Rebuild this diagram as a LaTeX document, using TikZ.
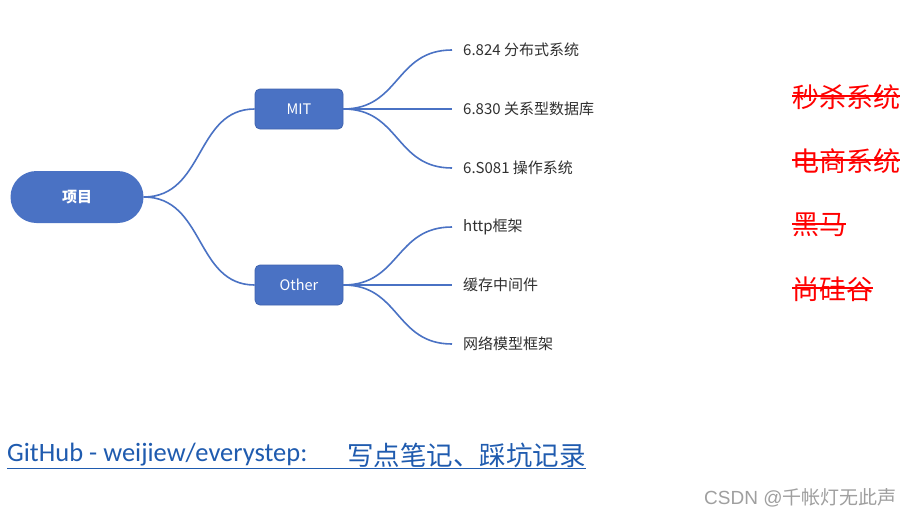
\documentclass[tikz,border=0pt]{standalone}
\usepackage{fontspec}
\setmainfont{Noto Sans CJK SC}
\newfontfamily\latinf{Carlito}
\newfontfamily\arialf{Liberation Sans}
\begin{document}
\begin{tikzpicture}[x=1pt,y=-1pt,
  conn/.style={draw=blueA,line width=1.6pt},
  rootbox/.style={fill=blueA,rounded corners=26pt,minimum width=133pt,minimum height=52pt,text=white,font=\fontsize{15}{17}\selectfont\bfseries},
  midbox/.style={fill=blueA,draw=blueB,line width=0.8pt,rounded corners=5pt,minimum width=88pt,minimum height=40pt,text=white,font=\fontsize{14.5}{16}\selectfont},
  leaf/.style={anchor=west,inner sep=0pt,text=textg,font=\fontsize{15}{17}\selectfont},
  redt/.style={anchor=west,inner sep=0pt,text=red,font=\fontsize{27}{31}\selectfont},
  strike/.style={draw=red,line width=1.3pt}]
\definecolor{blueA}{HTML}{4A72C4}
\definecolor{blueB}{HTML}{3F63AE}
\definecolor{textg}{HTML}{303030}
\definecolor{linkc}{HTML}{1F5BAF}
\useasboundingbox (0,0) rectangle (912,519);
\fill[white] (0,0) rectangle (912,519);
% nodes
\node[rootbox] (root) at (77,197) {项目};
\node[midbox] (mit) at (299,109) {MIT};
\node[midbox] (oth) at (299,285) {Other};
% leaf end coordinates
\coordinate (e1) at (452,50);
\coordinate (e2) at (452,109);
\coordinate (e3) at (452,168);
\coordinate (e4) at (452,227);
\coordinate (e5) at (452,285);
\coordinate (e6) at (452,344);
\node[leaf] (l1) at (463,50) {6.824 分布式系统};
\node[leaf] (l2) at (463,109) {6.830 关系型数据库};
\node[leaf] (l3) at (463,168) {6.S081 操作系统};
\node[leaf] (l4) at (463,227) {http框架};
\node[leaf] (l5) at (463,285) {缓存中间件};
\node[leaf] (l6) at (463,344) {网络模型框架};
% connectors
\draw[conn] (root.east) .. controls (205,197) and (195,109) .. (mit.west);
\draw[conn] (root.east) .. controls (205,197) and (195,285) .. (oth.west);
\draw[conn] (mit.east) .. controls (400,109) and (395,50) .. (e1);
\draw[conn] (mit.east) -- (e2);
\draw[conn] (mit.east) .. controls (400,109) and (395,168) .. (e3);
\draw[conn] (oth.east) .. controls (400,285) and (395,227) .. (e4);
\draw[conn] (oth.east) -- (e5);
\draw[conn] (oth.east) .. controls (400,285) and (395,344) .. (e6);
% red struck-through notes
\node[redt] (r1) at (792,97) {秒杀系统};
\node[redt] (r2) at (792,161) {电商系统};
\node[redt] (r3) at (792,225) {黑马};
\node[redt] (r4) at (792,289) {尚硅谷};
\foreach \r in {r1,r2,r3,r4}{
  \draw[strike] ([yshift=1pt]\r.west) -- ([yshift=1pt]\r.east);
}
% link
\node[anchor=west,inner sep=0pt,text=linkc,font=\latinf\fontsize{26.5}{30}\selectfont] (gh) at (7,455) {GitHub - weijiew/everystep:};
\node[anchor=west,inner sep=0pt,text=linkc,font=\fontsize{26.5}{30}\selectfont] (gh2) at (347,455) {写点笔记、踩坑记录};
\draw[draw=linkc,line width=1pt] (gh.west |- 0,468) -- (gh2.east |- 0,468);
% credit
\node[anchor=west,inner sep=0pt,text=gray!75,font=\fontsize{19}{22}\selectfont] (cs) at (704,498) {{\arialf CSDN @}千帐灯无此声};
\end{tikzpicture}
\end{document}
